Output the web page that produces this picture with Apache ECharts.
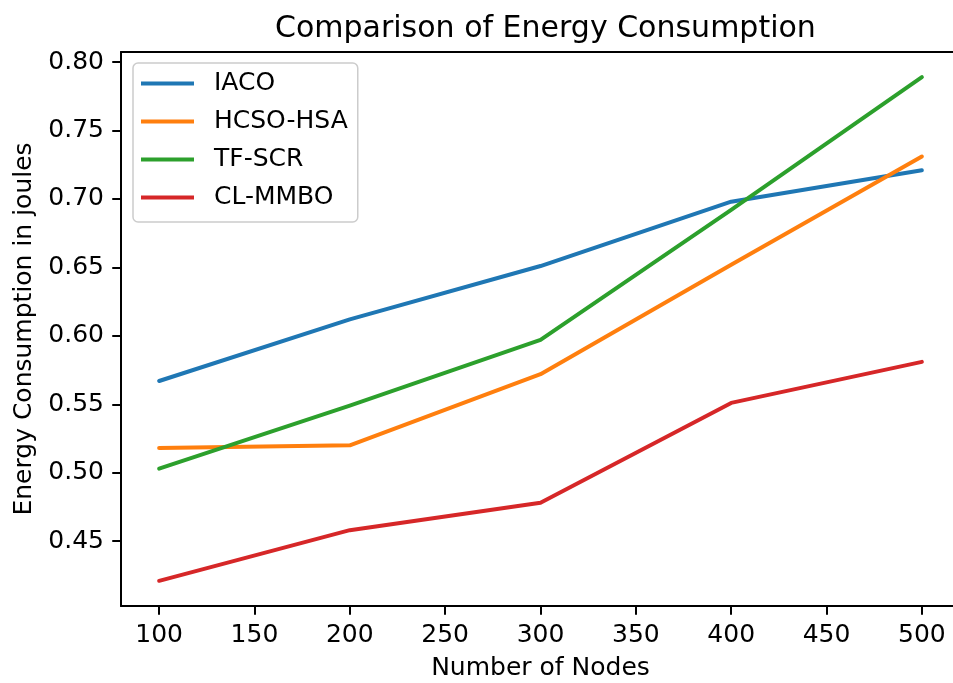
<!DOCTYPE html>
<html>
<head>
<meta charset="utf-8">
<script src="https://cdn.jsdelivr.net/npm/echarts@6/dist/echarts.min.js"></script>
<style>
html,body{margin:0;padding:0;background:#fff;}
#chart{width:953px;height:683px;}
</style>
</head>
<body>
<div id="chart"></div>
<script>
// ---- data ----
var nodes = [100, 200, 300, 400, 500];
var iaco = [0.567, 0.612, 0.651, 0.698, 0.721];
var hcsoHsa = [0.518, 0.520, 0.572, 0.652, 0.731];
var tfScr = [0.503, 0.549, 0.597, 0.692, 0.789];
var clMmbo = [0.421, 0.458, 0.478, 0.551, 0.581];
var seriesNames = ['IACO', 'HCSO-HSA', 'TF-SCR', 'CL-MMBO'];
var xTicks = [100, 150, 200, 250, 300, 350, 400, 450, 500];
var yTicks = [0.45, 0.50, 0.55, 0.60, 0.65, 0.70, 0.75, 0.80];

var colors = ['#1f77b4', '#ff7f0e', '#2ca02c', '#d62728'];
var allVals = [iaco, hcsoHsa, tfScr, clMmbo];
var FONT = 'DejaVu Sans';

function pairs(vals) {
  return nodes.map(function (n, i) { return [n, vals[i]]; });
}

var chart = echarts.init(document.getElementById('chart'), null, {renderer: 'canvas'});
var option = {
  backgroundColor: '#ffffff',
  animation: false,
  color: colors,
  title: {
    text: 'Comparison of Energy Consumption',
    left: 270,
    top: 9,
    textStyle: {fontFamily: FONT, fontSize: 30, fontWeight: 'normal', color: '#000'}
  },
  legend: {
    orient: 'vertical',
    left: 133,
    top: 63,
    data: seriesNames,
    icon: 'rect',
    itemWidth: 53,
    itemHeight: 4,
    itemGap: 13,
    padding: [8, 10, 12, 8],
    backgroundColor: 'rgba(255,255,255,0.8)',
    borderColor: '#cccccc',
    borderWidth: 1.5,
    borderRadius: 5,
    textStyle: {fontFamily: FONT, fontSize: 25, color: '#000', lineHeight: 25, padding: [0, 0, 0, 15]}
  },
  grid: {
    left: 121,
    top: 52,
    width: 839,
    height: 554,
    show: false,
    outerBoundsMode: 'none',
    containLabel: false
  },
  xAxis: [{
    type: 'value',
    min: 80,
    max: 520,
    name: 'Number of Nodes',
    nameLocation: 'middle',
    nameGap: 50,
    nameTextStyle: {fontFamily: FONT, fontSize: 25, color: '#000'},
    splitLine: {show: false},
    axisLine: {show: true, lineStyle: {color: '#000', width: 2}},
    axisTick: {show: true, length: 8.75, lineStyle: {color: '#000', width: 2}, customValues: xTicks},
    axisLabel: {
      fontFamily: FONT, fontSize: 25, color: '#000', margin: 17,
      customValues: xTicks,
      formatter: function (v) { return String(v); }
    }
  }, {
    type: 'value',
    position: 'top',
    min: 80,
    max: 520,
    splitLine: {show: false},
    axisLine: {show: true, lineStyle: {color: '#000', width: 2}},
    axisTick: {show: false},
    axisLabel: {show: false}
  }],
  yAxis: {
    type: 'value',
    min: 0.4026,
    max: 0.8074,
    name: 'Energy Consumption in joules',
    nameLocation: 'middle',
    nameGap: 84,
    nameTextStyle: {fontFamily: FONT, fontSize: 25, color: '#000'},
    splitLine: {show: false},
    axisLine: {show: true, lineStyle: {color: '#000', width: 2}},
    axisTick: {show: true, length: 8.75, lineStyle: {color: '#000', width: 2}, customValues: yTicks},
    axisLabel: {
      fontFamily: FONT, fontSize: 25, color: '#000', margin: 17,
      customValues: yTicks,
      formatter: function (v) { return v.toFixed(2); }
    }
  },
  series: seriesNames.map(function (name, i) {
    return {
      name: name,
      type: 'line',
      xAxisIndex: 0,
      data: pairs(allVals[i]),
      showSymbol: false,
      symbol: 'none',
      lineStyle: {width: 4, color: colors[i], cap: 'round', join: 'round'},
      itemStyle: {color: colors[i]},
      z: 2 + i
    };
  })
};
chart.setOption(option);
</script>
</body>
</html>
